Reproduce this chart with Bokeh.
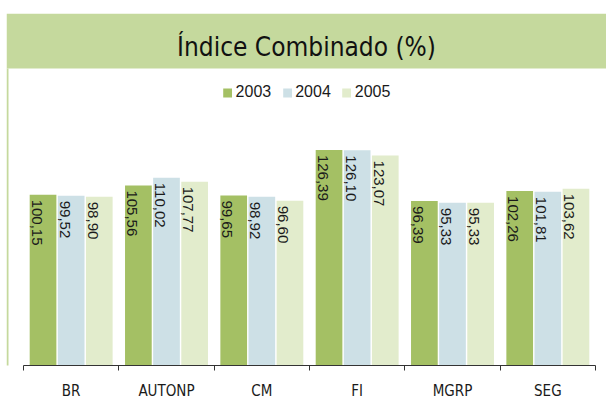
import math
from bokeh.plotting import figure
from bokeh.models import ColumnDataSource, Range1d, FixedTicker, Label, BoxAnnotation
from bokeh.transform import dodge
from bokeh.core.properties import value
from bokeh.embed import file_html
from bokeh.resources import INLINE

# ---- data ----
categories = ["BR", "AUTONP", "CM", "FI", "MGRP", "SEG"]
years = ["2003", "2004", "2005"]
v2003 = [100.15, 105.56, 99.65, 126.39, 96.39, 102.26]
v2004 = [99.52, 110.02, 98.92, 126.10, 95.33, 101.81]
v2005 = [98.90, 107.77, 96.60, 123.07, 95.33, 103.62]
title_text = "Índice Combinado (%)"

colors = ["#a4c064", "#cde0e6", "#e2eccc"]
band_color = "#c5d99d"
narrow = "DejaVu Sans Condensed"
regular = "Liberation Sans"

def fmt(v):
    return f"{v:.2f}".replace(".", ",")

n = len(categories)
xs = list(range(n))
src = ColumnDataSource(dict(
    x=xs,
    v2003=v2003, v2004=v2004, v2005=v2005,
    l2003=[fmt(v) for v in v2003],
    l2004=[fmt(v) for v in v2004],
    l2005=[fmt(v) for v in v2005],
))

# layout geometry (pixels)
W, H = 606, 403
frame_left, frame_top = 6, 13
axis_y = 365            # pixel row of the baseline
cat_left, cat_right = 23, 595
px_per_cat = (cat_right - cat_left) / n
px_per_unit = 1.706     # vertical scale
band_bottom_px = 68
title_base_px = 46

x_start = -0.5 - (cat_left - frame_left) / px_per_cat
x_end = n - 0.5 + (W - cat_right) / px_per_cat
y_end = (axis_y - frame_top) / px_per_unit

p = figure(width=W, height=H, x_range=Range1d(x_start, x_end),
           y_range=Range1d(0, y_end), toolbar_location=None, output_backend="svg",
           min_border_left=frame_left, min_border_right=0, min_border_top=frame_top,
           min_border_bottom=H - axis_y, y_axis_location=None)
p.grid.visible = False
p.outline_line_color = None
p.background_fill_color = "white"
p.border_fill_color = "white"

# title band
band_bottom = (axis_y - band_bottom_px) / px_per_unit
p.add_layout(BoxAnnotation(bottom=band_bottom, fill_color=band_color, fill_alpha=1,
                           line_color=None, level="underlay"))
# left border line of the panel
px = (x_end - x_start) / (W - frame_left)
p.add_layout(BoxAnnotation(left=x_start, right=x_start + 2 * px, top=band_bottom,
                           bottom=-(H - axis_y) / px_per_unit,
                           fill_color=band_color, fill_alpha=1, line_color=None,
                           level="underlay"))
p.add_layout(Label(x=(x_start + x_end) / 2, y=(axis_y - title_base_px) / px_per_unit,
                   text=title_text, text_align="center", text_baseline="alphabetic",
                   text_font=narrow, text_font_size="26px", text_color="#111111"))

offsets = [-0.295, 0.0, 0.295]
for yr, off, col in zip(years, offsets, colors):
    p.vbar(x=dodge("x", off, range=p.x_range), top="v" + yr, width=0.28,
           source=src, fill_color=col, line_color=None, legend_label=yr)
    p.text(x=dodge("x", off, range=p.x_range), y="v" + yr, text="l" + yr,
           source=src, angle=-math.pi / 2, text_align="left",
           text_baseline="alphabetic", x_offset=-6.5, y_offset=5,
           text_font=value(regular), text_font_size="15px", text_color="#1a1a1a")

ax = p.xaxis[0]
ax.ticker = FixedTicker(ticks=xs, minor_ticks=[i - 0.5 for i in range(n + 1)])
ax.bounds = (-0.5, n - 0.5)
ax.major_label_overrides = {i: c for i, c in zip(xs, categories)}
ax.major_tick_line_color = None
ax.major_tick_out = 0
ax.major_tick_in = 0
ax.minor_tick_line_color = "#333333"
ax.minor_tick_out = 5
ax.minor_tick_in = 0
ax.axis_line_color = "#333333"
ax.axis_line_width = 1
ax.major_label_standoff = 11
ax.major_label_text_font = narrow
ax.major_label_text_font_size = "15px"
ax.major_label_text_color = "#1a1a1a"

lg = p.legend[0]
lg.orientation = "horizontal"
lg.location = "top_center"
lg.margin = 70
lg.padding = 0
lg.spacing = 10
lg.glyph_width = 11
lg.glyph_height = 11
lg.label_height = 11
lg.label_standoff = 3
lg.border_line_color = None
lg.background_fill_alpha = 0
lg.label_text_font = regular
lg.label_text_font_size = "16px"
lg.label_text_color = "#1a1a1a"

open("out.html", "w").write(file_html(p, INLINE))
